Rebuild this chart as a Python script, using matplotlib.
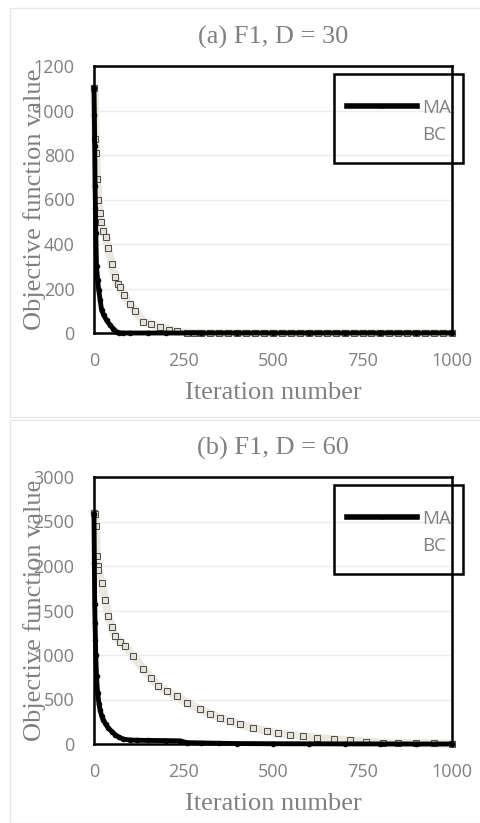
import matplotlib.pyplot as plt
from matplotlib.patches import Rectangle
from matplotlib.lines import Line2D

# (a) F1, D = 30
it_ma_a = [0, 1, 2, 3, 4, 5, 7, 10, 13, 17, 21, 27, 35, 45, 54, 63, 70, 80, 100,
           150, 200, 300, 400, 500, 600, 700, 800, 900, 1000]
ma_a = [1100, 980, 840, 660, 560, 450, 300, 240, 195, 150, 105, 80, 57, 35, 19, 5, 1, 0, 0,
        0, 0, 0, 0, 0, 0, 0, 0, 0, 0]
it_bc_a = [1, 4, 6, 9, 12, 16, 20, 26, 34, 40, 49, 59, 66, 73, 85, 100, 115, 138, 160,
           184, 210, 231, 259, 280, 300, 325, 350, 375, 400, 425, 450, 475, 500, 525, 550,
           575, 600, 625, 650, 675, 700, 725, 750, 775, 800, 825, 850, 875, 900, 925, 950,
           975, 1000]
bc_a = [1100, 870, 810, 690, 600, 540, 500, 460, 430, 380, 310, 250, 220, 205, 170, 130, 100,
        50, 40, 27, 15, 7, 1, 0, 0, 0, 0, 0, 0, 0, 0, 0, 0, 0, 0, 0, 0, 0, 0, 0, 0, 0, 0, 0,
        0, 0, 0, 0, 0, 0, 0, 0, 0]

# (b) F1, D = 60
it_ma_b = [0, 1, 2, 3, 4, 5, 7, 10, 14, 17, 21, 26, 33, 40, 50, 59, 70, 82, 100, 120, 150,
           200, 240, 260, 300, 350, 400, 500, 600, 700, 800, 900, 1000]
ma_b = [2580, 2030, 1570, 1360, 1170, 1000, 760, 575, 450, 385, 320, 270, 220, 180, 140, 105,
        75, 55, 45, 42, 40, 38, 35, 15, 12, 8, 5, 3, 2, 1, 1, 0, 0]
it_bc_b = [0, 3, 5, 7, 10, 12, 21, 31, 40, 49, 59, 73, 87, 110, 138, 160, 180, 205, 231, 260,
           296, 325, 352, 380, 408, 445, 482, 515, 547, 585, 622, 670, 715, 760, 808, 850,
           900, 950, 1000]
bc_b = [2600, 2580, 2450, 2110, 2000, 1960, 1810, 1620, 1440, 1320, 1210, 1150, 1100, 990,
        840, 740, 650, 590, 540, 460, 390, 340, 295, 255, 220, 180, 145, 120, 105, 85, 70,
        52, 40, 25, 12, 10, 8, 6, 5]

panels = [
    ("(a) F1, D = 30", it_ma_a, ma_a, it_bc_a, bc_a, 1200, [0, 200, 400, 600, 800, 1000, 1200]),
    ("(b) F1, D = 60", it_ma_b, ma_b, it_bc_b, bc_b, 3000, [0, 500, 1000, 1500, 2000, 2500, 3000]),
]

W, H = 480, 823
fig = plt.figure(figsize=(W / 100, H / 100), dpi=100)
gray = '#808080'
serif = ['Liberation Serif', 'DejaVu Serif']
sans = ['Open Sans', 'DejaVu Sans']

# chart-area borders (Excel style)
fig.patches.append(Rectangle((10 / W, 1 - 417 / H), 480 / W, 409 / H, transform=fig.transFigure,
                             fill=False, edgecolor='#e6e6e6', lw=1))
fig.patches.append(Rectangle((10 / W, 1 - 823 / H), 480 / W, 403 / H, transform=fig.transFigure,
                             fill=False, edgecolor='#e6e6e6', lw=1))

axes_px = [(66, 333), (477, 744)]
for (title, ix, ma, ib, bc, ymax, yt), (top, bot) in zip(panels, axes_px):
    ah = bot - top
    ax = fig.add_axes([94 / W, 1 - bot / H, 358 / W, ah / H])
    ax.plot(ib, bc, color='#ebe9df', lw=6, marker='s', ms=5, mfc='#e4e2d8',
            mec='#4a4a4a', mew=0.7, clip_on=False, zorder=3)
    ax.plot(ix, ma, color='black', lw=3.5, marker='o', ms=3, clip_on=False, zorder=4)
    ax.set_xlim(0, 1000)
    ax.set_ylim(0, ymax)
    ax.set_xticks([0, 250, 500, 750, 1000])
    ax.set_yticks(yt)
    ax.tick_params(length=0, labelsize=13, labelcolor=gray, pad=14)
    for lab in ax.get_xticklabels() + ax.get_yticklabels():
        lab.set_family(sans)
    ax.grid(axis='y', color='#ececec', lw=1)
    ax.set_axisbelow(True)
    for s in ax.spines.values():
        s.set_color('black')
        s.set_linewidth(1.8)
        s.set_zorder(5)
    ax.set_title(title, family=serif, fontsize=19, color=gray, pad=16)
    ax.set_xlabel('Iteration number', family=serif, fontsize=19, color=gray, labelpad=8)
    ax.set_ylabel('Objective function value', family=serif, fontsize=19, color=gray)
    ax.yaxis.set_label_coords(-0.135, 0.5)

    # legend
    handles = [Line2D([], [], color='black', lw=4, marker='o', ms=2),
               Line2D([], [], color='white', lw=4)]
    leg = ax.legend(handles, ['MA', 'BC'], loc='upper left', bbox_to_anchor=(0.66, 0.94),
                    frameon=False, handlelength=3.7, handletextpad=0.3, labelspacing=0.5,
                    prop={'family': sans, 'size': 13.5})
    for t in leg.get_texts():
        t.set_color(gray)
    ax.add_patch(Rectangle(((334 - 94) / 358, 1 - 97 / ah), (463 - 334) / 358, 89 / ah,
                           transform=ax.transAxes, fill=False, edgecolor='black', lw=1.8,
                           clip_on=False, zorder=6))

fig.savefig('out.png', dpi=100)
